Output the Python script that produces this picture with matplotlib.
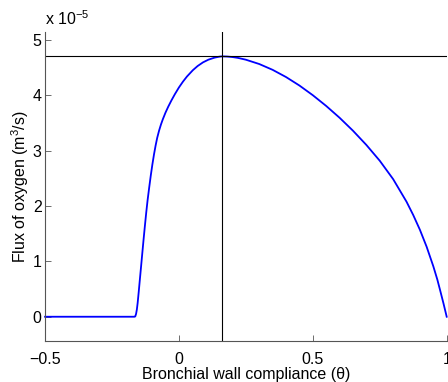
import matplotlib
matplotlib.use("Agg")
import matplotlib.pyplot as plt

plt.rcParams['font.family'] = ['Liberation Sans', 'DejaVu Sans']
plt.rcParams['mathtext.fontset'] = 'custom'
plt.rcParams['mathtext.rm'] = 'Liberation Sans'
plt.rcParams['mathtext.it'] = 'Liberation Sans:italic'

# curve points (theta, flux in units of 1e-5 m^3/s)
theta = [-0.5, -0.3, -0.2, -0.166, -0.163, -0.160, -0.157, -0.154, -0.150, -0.146,
         -0.141, -0.137, -0.132, -0.127, -0.122, -0.117, -0.111, -0.105, -0.099, -0.093,
         -0.087, -0.081, -0.074, -0.067, -0.060, -0.050, -0.040, -0.028, -0.015, 0.000,
         0.015, 0.030, 0.052, 0.070, 0.090, 0.110, 0.133, 0.150, 0.160,
         0.180, 0.200, 0.220, 0.250, 0.300, 0.350, 0.400, 0.450, 0.500, 0.550,
         0.600, 0.650, 0.700, 0.750, 0.800, 0.850, 0.875, 0.900, 0.925, 0.950,
         0.965, 0.975, 0.988, 1.000]
flux = [0.0, 0.0, 0.0, 0.0, 0.005, 0.05, 0.13, 0.25, 0.45, 0.66,
        0.92, 1.13, 1.39, 1.64, 1.88, 2.10, 2.33, 2.55, 2.75, 2.93,
        3.09, 3.23, 3.36, 3.47, 3.565, 3.685, 3.79, 3.904, 4.018, 4.138,
        4.243, 4.336, 4.45, 4.526, 4.592, 4.64, 4.677, 4.694, 4.70,
        4.697, 4.688, 4.673, 4.640, 4.562, 4.457, 4.327, 4.174, 3.999, 3.805,
        3.592, 3.358, 3.101, 2.816, 2.484, 2.076, 1.836, 1.569, 1.264, 0.911,
        0.671, 0.486, 0.24, 0.0]
peak_flux = 4.70
peak_theta = 0.160
scale = 1e-5

xticks = [-0.5, 0, 0.5, 1]
xticklabels = ['\u22120.5', '0', '0.5', '1']
yticks = [0, 1, 2, 3, 4, 5]

fig = plt.figure(figsize=(4.48, 3.82), dpi=100)
ax = fig.add_axes([45/448, 41/382, 401.7/448, 309/382])

ax.plot(theta, [v * scale for v in flux], color='#0000ff', lw=1.3,
        solid_joinstyle='round', clip_on=False)
ax.axhline(peak_flux * scale, color='black', lw=0.8)
ax.axvline(peak_theta, color='black', lw=0.8)

ax.set_xlim(-0.5, 1.0)
ax.set_ylim(-0.438 * scale, 5.14 * scale)
ax.set_xticks(xticks)
ax.set_xticklabels(xticklabels)
ax.set_yticks([v * scale for v in yticks])
ax.set_yticklabels([str(v) for v in yticks])

for s in ['top', 'right']:
    ax.spines[s].set_visible(False)
for s in ['left', 'bottom']:
    ax.spines[s].set_color('#555555')
    ax.spines[s].set_linewidth(0.8)
ax.tick_params(direction='in', length=4, width=0.6, color='#555555', labelsize=11.5)
ax.tick_params(axis='x', pad=8)
ax.tick_params(axis='y', pad=2.5)

ax.set_xlabel('Bronchial wall compliance (\u03b8)', fontsize=11.5, labelpad=0)
ax.set_ylabel('Flux of oxygen (m$^3$/s)', fontsize=11.5)
ax.yaxis.set_label_coords((31 - 45) / 401.7, 0.5)
fig.text(45/448, 1 - 25/382, 'x 10$^{\u22125}$', fontsize=11.5, ha='left', va='baseline')

fig.savefig('out.png', dpi=100)
